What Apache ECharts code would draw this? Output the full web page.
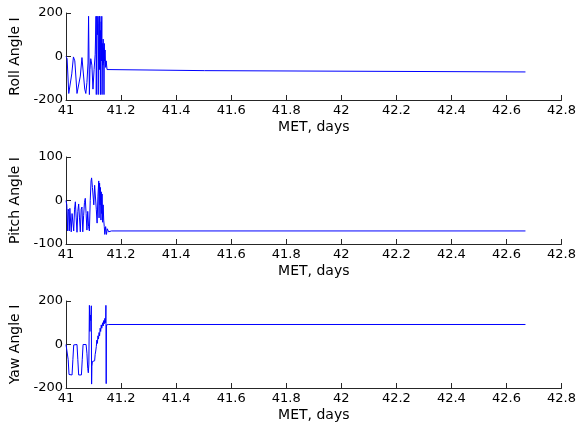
<!DOCTYPE html>
<html>
<head>
<meta charset="utf-8">
<script src="https://cdn.jsdelivr.net/npm/echarts@6/dist/echarts.min.js"></script>
<style>
html,body{margin:0;padding:0;background:#fff;}
#chart{width:579px;height:432px;}
</style>
</head>
<body>
<div id="chart"></div>
<script>
// ---- data ----
var xTicksMin = 41, xTicksMax = 42.8, xTickStep = 0.2;
var xName = 'MET, days';
var yNames = ['Roll Angle I', 'Pitch Angle I', 'Yaw Angle I'];

var rollT = [41.000,41.004,41.010,41.015,41.021,41.027,41.032,41.040,41.046,41.052,41.058,41.062,41.068,41.072,41.076,41.080,41.082,41.083,41.085,41.087,41.090,41.094,41.098,41.102,41.106,41.109,41.110,41.112,41.114,41.116,41.117,41.119,41.121,41.122,41.123,41.125,41.126,41.127,41.128,41.129,41.130,41.131,41.133,41.134,41.135,41.136,41.137,41.138,41.139,41.140,41.142,41.144,41.146,41.149,41.152,41.156,41.503,41.504,42.669];
var rollV = [0,-10,-170,-175,-80,-2,-20,-170,-178,-90,-5,-10,-150,-170,-120,-30,185,180,-175,-60,-10,-40,-150,-60,10,185,-175,185,100,185,-175,150,185,-60,185,-175,120,30,160,-20,185,-175,60,-40,80,-30,40,-175,60,-20,30,-50,-20,-60,-55,-65,-65,-71,-71];

var pitchT = [41.000,41.003,41.006,41.008,41.010,41.012,41.014,41.017,41.019,41.022,41.025,41.028,41.031,41.034,41.037,41.040,41.043,41.046,41.049,41.052,41.055,41.058,41.061,41.064,41.067,41.070,41.073,41.076,41.079,41.082,41.085,41.088,41.091,41.093,41.096,41.099,41.101,41.104,41.107,41.110,41.113,41.116,41.119,41.120,41.122,41.124,41.125,41.127,41.128,41.130,41.131,41.133,41.135,41.137,41.139,41.141,41.144,41.147,41.150,41.155,41.160,41.165,42.669];
var pitchV = [0,-10,-70,-20,-25,-70,-18,-20,-72,-30,-30,-70,-20,-3,-40,-73,-25,-8,-40,-72,-20,-15,-72,-35,-5,5,-30,-68,-25,-60,-70,0,45,52,30,32,-10,35,37,-20,-52,10,45,-40,40,-10,30,-45,20,-30,15,-50,-10,-45,-60,-78,-60,-78,-65,-72,-68,-70,-70];

var yawT = [41.000,41.005,41.008,41.011,41.022,41.025,41.028,41.040,41.043,41.046,41.056,41.059,41.062,41.073,41.076,41.079,41.081,41.083,41.085,41.086,41.087,41.088,41.089,41.090,41.092,41.093,41.094,41.096,41.100,41.104,41.106,41.108,41.110,41.112,41.114,41.116,41.118,41.120,41.122,41.124,41.126,41.128,41.130,41.133,41.135,41.137,41.139,41.141,41.144,41.145,41.146,41.147,41.150,41.155,42.669];
var yawV = [0,0,-70,-138,-140,-70,-2,0,-70,-140,-140,-70,0,0,-40,-110,-130,-90,180,178,60,120,135,110,178,-182,-100,-78,-80,-75,-45,-30,-10,20,5,40,25,55,40,75,60,90,75,100,85,110,95,120,100,180,-180,90,95,92,92];

var yMins = [-200, -100, -200];
var yMaxs = [200, 100, 200];
var ySteps = [200, 100, 200];

// ---- chart ----
function pairs(t, v){ var out=[]; var n=Math.min(t.length, v.length); for (var i=0;i<n;i++) out.push([t[i], v[i]]); return out; }
var seriesData = [pairs(rollT, rollV), pairs(pitchT, pitchV), pairs(yawT, yawV)];

var FONT = 'DejaVu Sans';
var axisColor = '#262626';
var tops = [13, 157, 301];
var grids = [], xAxes = [], yAxes = [], series = [];
for (var k=0;k<3;k++){
  grids.push({left:66, right:16, top:tops[k], height:87});
  xAxes.push({
    type:'value', gridIndex:k, min:xTicksMin, max:xTicksMax, interval:xTickStep,
    name:xName, nameLocation:'middle', nameGap:20,
    nameTextStyle:{fontFamily:FONT, fontSize:14, color:'#000'},
    axisLine:{show:true, onZero:false, lineStyle:{color:axisColor, width:1}},
    axisTick:{show:true, inside:true, length:5, lineStyle:{color:axisColor}},
    axisLabel:{fontFamily:FONT, fontSize:13, color:'#000', margin:4,
      formatter:function(v){ return String(+v.toFixed(1)); }},
    splitLine:{show:false}
  });
  yAxes.push({
    type:'value', gridIndex:k, min:yMins[k], max:yMaxs[k], interval:ySteps[k],
    name:yNames[k], nameLocation:'middle', nameGap:41, nameRotate:90,
    nameTextStyle:{fontFamily:FONT, fontSize:14, color:'#000'},
    axisLine:{show:true, onZero:false, lineStyle:{color:axisColor, width:1}},
    axisTick:{show:true, inside:true, length:5, lineStyle:{color:axisColor}},
    axisLabel:{fontFamily:FONT, fontSize:13, color:'#000', margin:3},
    splitLine:{show:false}
  });
  series.push({
    type:'line', xAxisIndex:k, yAxisIndex:k, data:seriesData[k],
    showSymbol:false, symbol:'none', clip:true,
    lineStyle:{color:'#0000ff', width:1}
  });
}
var chart = echarts.init(document.getElementById('chart'), null, {renderer:'canvas'});
chart.setOption({
  animation:false,
  backgroundColor:'#fff',
  grid:grids, xAxis:xAxes, yAxis:yAxes, series:series
});
</script>
</body>
</html>
